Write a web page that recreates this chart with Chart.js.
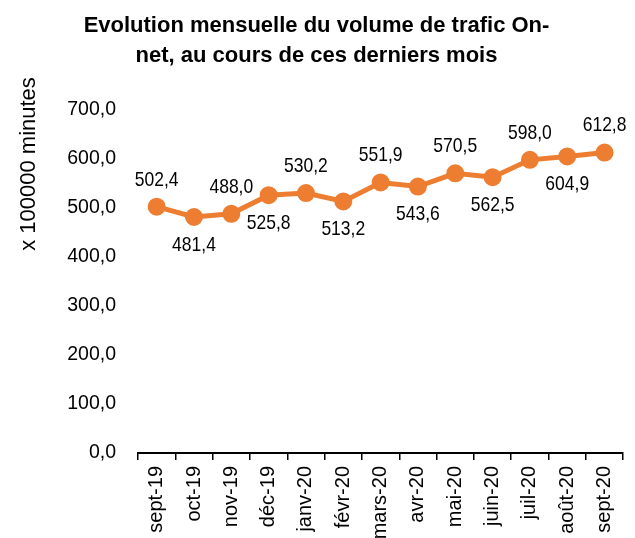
<!DOCTYPE html>
<html>
<head>
<meta charset="utf-8">
<script src="https://cdn.jsdelivr.net/npm/chart.js@4/dist/chart.umd.min.js"></script>
<style>
  html, body { margin: 0; padding: 0; background: #fff; }
  #wrap { width: 635px; height: 538px; }
</style>
</head>
<body>
<div id="wrap"><canvas id="c" width="635" height="538"></canvas></div>
<script>
const categories = ["sept-19","oct-19","nov-19","déc-19","janv-20","févr-20","mars-20","avr-20","mai-20","juin-20","juil-20","août-20","sept-20"];
const volume = [502.4, 481.4, 488.0, 525.8, 530.2, 513.2, 551.9, 543.6, 570.5, 562.5, 598.0, 604.9, 612.8];
const yTicks = [0, 100, 200, 300, 400, 500, 600, 700];
const titleLines = ["Evolution mensuelle du volume de trafic On-", "net, au cours de ces derniers mois"];
const yTitle = "x 100000 minutes";

const FONT = "'Liberation Sans', Arial, sans-serif";
const ORANGE = "#ED7D31";
const fmt = v => v.toFixed(1).replace(".", ",");

const labelPlugin = {
  id: "valueLabels",
  afterDatasetsDraw(chart) {
    const ctx = chart.ctx;
    const meta = chart.getDatasetMeta(0);
    const sy = 1.2;
    ctx.save();
    ctx.font = "17.5px " + FONT;
    ctx.fillStyle = "#000";
    ctx.textAlign = "center";
    ctx.textBaseline = "middle";
    meta.data.forEach((pt, i) => {
      const dy = (i % 2 === 0) ? -27 : 28;
      ctx.save();
      ctx.translate(pt.x, pt.y + dy);
      ctx.scale(1, sy);
      ctx.fillText(fmt(chart.data.datasets[0].data[i]), 0, 0);
      ctx.restore();
    });
    ctx.restore();
  }
};

const yTitlePlugin = {
  id: "yTitle",
  afterDraw(chart) {
    const ctx = chart.ctx;
    ctx.save();
    ctx.font = "22px " + FONT;
    ctx.fillStyle = "#000";
    ctx.textAlign = "center";
    ctx.textBaseline = "middle";
    ctx.translate(29, 164);
    ctx.rotate(-Math.PI / 2);
    ctx.fillText(yTitle, 0, 0);
    ctx.restore();
  }
};

new Chart(document.getElementById("c"), {
  type: "line",
  data: {
    labels: categories,
    datasets: [{
      data: volume,
      borderColor: ORANGE,
      backgroundColor: ORANGE,
      borderWidth: 5,
      pointRadius: 6.5,
      pointHoverRadius: 6.5,
      pointBackgroundColor: ORANGE,
      pointBorderColor: ORANGE,
      tension: 0
    }]
  },
  options: {
    responsive: false,
    animation: false,
    layout: { padding: { left: 0, right: 2, top: 0, bottom: 0 } },
    plugins: {
      legend: { display: false },
      tooltip: { enabled: false },
      title: {
        display: true,
        text: titleLines,
        color: "#000",
        font: { family: FONT, size: 22, weight: "bold", lineHeight: 1.36 },
        padding: { top: 11, bottom: 39 }
      }
    },
    scales: {
      x: {
        offset: true,
        grid: {
          display: true,
          offset: true,
          drawOnChartArea: false,
          drawTicks: true,
          tickLength: 7,
          color: "#000",
          lineWidth: 1.5
        },
        border: { display: true, color: "#000", width: 2 },
        ticks: {
          color: "#000",
          font: { family: FONT, size: 20 },
          maxRotation: 90,
          minRotation: 90,
          padding: 6,
          autoSkip: false
        },
        afterFit(s) { s.height = 85; }
      },
      y: {
        min: 0,
        max: 700,
        grid: { display: false, drawTicks: false },
        border: { display: false },
        ticks: {
          color: "#000",
          font: { family: FONT, size: 19.5 },
          padding: 22,
          stepSize: 100,
          callback: v => yTicks.includes(v) ? fmt(v) : ""
        },
        afterFit(s) { s.width = 138; }
      }
    }
  },
  plugins: [labelPlugin, yTitlePlugin]
});
</script>
</body>
</html>
